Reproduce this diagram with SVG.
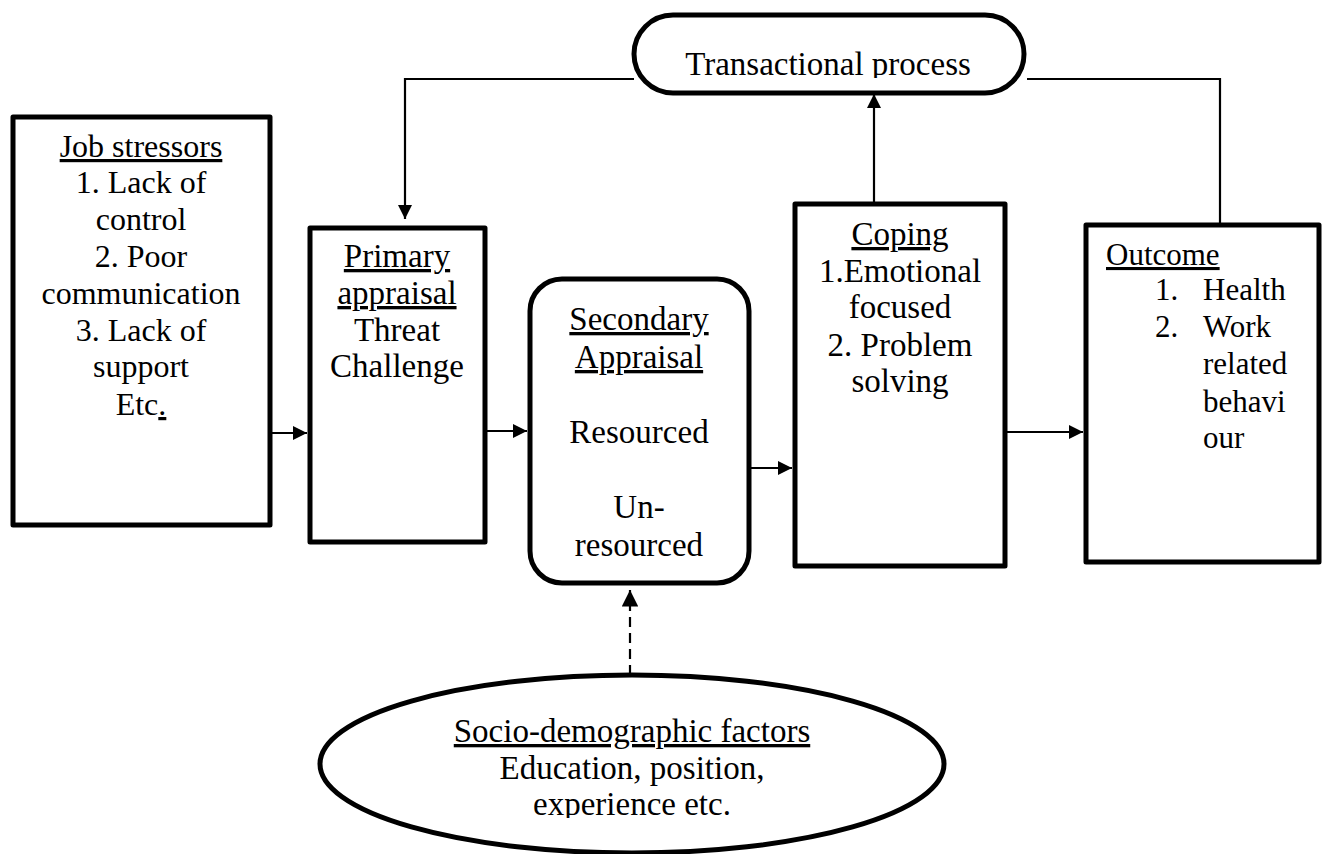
<svg xmlns="http://www.w3.org/2000/svg" width="1323" height="854" viewBox="0 0 1323 854">
<style>
.box{fill:#fff;stroke:#000;stroke-width:5;stroke-linejoin:round}
.t{font-family:"Liberation Serif","Times New Roman",serif;font-size:33px;fill:#000;text-anchor:middle}
.tj{font-size:32px}
.l{text-anchor:start;font-size:31px}
.u{text-decoration:underline}
.c{fill:none;stroke:#000;stroke-width:2.2}
.d{stroke-dasharray:10 6}
</style>
<defs>
<marker id="ah" viewBox="0 0 10 10" refX="10" refY="5" markerWidth="6.5" markerHeight="6.5" markerUnits="strokeWidth" orient="auto">
<path d="M0,0 L10,5 L0,10 z" fill="#000"/>
</marker>
<marker id="ah2" viewBox="0 0 10 10" refX="10" refY="5" markerWidth="7.5" markerHeight="7.5" markerUnits="strokeWidth" orient="auto">
<path d="M0,0 L10,5 L0,10 z" fill="#000"/>
</marker>
<clipPath id="clipTop"><rect x="600" y="0" width="450" height="78"/></clipPath>
<clipPath id="clipBot"><rect x="300" y="600" width="700" height="218"/></clipPath>
</defs>

<g id="connectors">
<polyline class="c" points="634,79 405,79 405,219" marker-end="url(#ah)"/>
<polyline class="c" points="1220,223 1220,79 1027,79"/>
<line class="c" x1="874" y1="202" x2="874" y2="94" marker-end="url(#ah)"/>
<line class="c" x1="272" y1="433" x2="307" y2="433" marker-end="url(#ah)"/>
<line class="c" x1="487" y1="431" x2="527" y2="431" marker-end="url(#ah)"/>
<line class="c" x1="751" y1="468" x2="792" y2="468" marker-end="url(#ah)"/>
<line class="c" x1="1007" y1="432" x2="1083" y2="432" marker-end="url(#ah)"/>
<line class="c d" x1="630" y1="675" x2="630" y2="590" marker-end="url(#ah2)"/>
</g>

<g id="transactional">
<rect class="box" x="634" y="15" width="390" height="78" rx="39"/>
<text class="t" x="828" y="75" clip-path="url(#clipTop)" font-size="35">Transactional process</text>
</g>

<g id="job-stressors">
<rect class="box" x="13" y="117" width="257" height="408"/>
<text class="t tj" x="141" y="157"><tspan class="u">Job stressors</tspan></text>
<text class="t tj" x="141" y="193">1. Lack of</text>
<text class="t tj" x="141" y="230">control</text>
<text class="t tj" x="141" y="267">2. Poor</text>
<text class="t tj" x="141" y="304">communication</text>
<text class="t tj" x="141" y="341">3. Lack of</text>
<text class="t tj" x="141" y="377">support</text>
<text class="t tj" x="141" y="415">Etc<tspan class="u">.</tspan></text>
</g>

<g id="primary-appraisal">
<rect class="box" x="310" y="228" width="175" height="314"/>
<text class="t" x="397" y="267"><tspan class="u">Primary</tspan></text>
<text class="t" x="397" y="304"><tspan class="u">appraisal</tspan></text>
<text class="t" x="397" y="341">Threat</text>
<text class="t" x="397" y="377">Challenge</text>
</g>

<g id="secondary-appraisal">
<rect class="box" x="530" y="279" width="219" height="304" rx="32"/>
<text class="t" x="639" y="330" font-size="34"><tspan class="u">Secondary</tspan></text>
<text class="t" x="639" y="368" font-size="34"><tspan class="u">Appraisal</tspan></text>
<text class="t" x="639" y="443" font-size="34">Resourced</text>
<text class="t" x="639" y="518" font-size="34">Un-</text>
<text class="t" x="639" y="556" font-size="34">resourced</text>
</g>

<g id="coping">
<rect class="box" x="795" y="204" width="210" height="362"/>
<text class="t" x="900" y="245"><tspan class="u">Coping</tspan></text>
<text class="t" x="900" y="282">1.Emotional</text>
<text class="t" x="900" y="318">focused</text>
<text class="t" x="900" y="356">2. Problem</text>
<text class="t" x="900" y="392">solving</text>
</g>

<g id="outcome">
<rect class="box" x="1086" y="225" width="233" height="337"/>
<text class="t l" x="1106" y="265"><tspan class="u">Outcome</tspan></text>
<text class="t l" x="1155" y="300">1.</text>
<text class="t l" x="1203" y="300">Health</text>
<text class="t l" x="1155" y="337">2.</text>
<text class="t l" x="1203" y="337">Work</text>
<text class="t l" x="1203" y="374">related</text>
<text class="t l" x="1203" y="412">behavi</text>
<text class="t l" x="1203" y="448">our</text>
</g>

<g id="socio-demographic">
<ellipse class="box" cx="632" cy="764" rx="312" ry="89"/>
<g clip-path="url(#clipBot)">
<text class="t" x="632" y="742"><tspan class="u">Socio-demographic factors</tspan></text>
<text class="t" x="632" y="779">Education, position,</text>
<text class="t" x="632" y="815">experience etc.</text>
</g>
</g>
</svg>
